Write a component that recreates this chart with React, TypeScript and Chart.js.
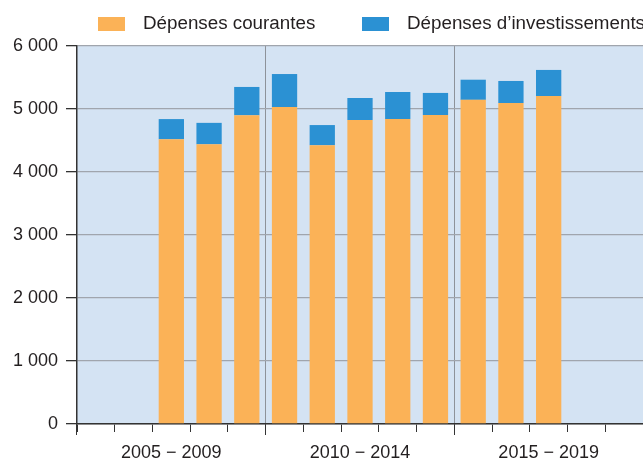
import React, { useEffect, useRef } from "react";
import { Chart, registerables } from "chart.js";

Chart.register(...registerables);

const years = ["2005","2006","2007","2008","2009","2010","2011","2012","2013","2014","2015","2016","2017","2018","2019"];
const groupLabels = ["2005 \u2212 2009", "2010 \u2212 2014", "2015 \u2212 2019"];
const courantes = [null, null, 4520, 4440, 4900, 5030, 4425, 4825, 4840, 4905, 5145, 5095, 5205, null, null];
const investissements = [null, null, 320, 340, 450, 525, 320, 350, 430, 350, 320, 350, 415, null, null];
const seriesLabels = ["Dépenses courantes", "Dépenses d\u2019investissements"];
const seriesColors = ["#fbb257", "#2b91d3"];

const FONT = "'Liberation Sans', Arial, sans-serif";
const TEXT = "#231f20";

const fmt = (v: number) => String(v).replace(/\B(?=(\d{3})+(?!\d))/g, " ");

const bgPlugin = {
  id: "plotBg",
  beforeDraw(chart: any) {
    const { ctx, chartArea } = chart;
    ctx.save();
    ctx.fillStyle = "#d4e3f3";
    ctx.fillRect(chartArea.left, chartArea.top, chartArea.right - chartArea.left, chartArea.bottom - chartArea.top);
    ctx.restore();
  },
};

const legendPlugin = {
  id: "customLegend",
  afterDraw(chart: any) {
    const { ctx } = chart;
    const items = chart.data.datasets;
    const starts = [98, 362];
    ctx.save();
    ctx.font = `18.8px ${FONT}`;
    ctx.textBaseline = "middle";
    items.forEach((ds: any, i: number) => {
      const x = starts[i];
      ctx.fillStyle = ds.backgroundColor;
      ctx.fillRect(x, 17, 27, 14);
      ctx.fillStyle = TEXT;
      ctx.fillText(ds.label, x + 45, 24);
    });
    ctx.restore();
  },
};

export default function App() {
  const ref = useRef<HTMLCanvasElement>(null);

  useEffect(() => {
    document.body.style.margin = "0";
    const canvas = ref.current!;
    const chart = new Chart(canvas, {
      type: "bar",
      data: {
        labels: years,
        datasets: [
          {
            label: seriesLabels[0],
            data: courantes as any,
            backgroundColor: seriesColors[0],
            categoryPercentage: 1,
            barPercentage: 0.67,
            xAxisID: "x",
          },
          {
            label: seriesLabels[1],
            data: investissements as any,
            backgroundColor: seriesColors[1],
            categoryPercentage: 1,
            barPercentage: 0.67,
            xAxisID: "x",
          },
        ],
      },
      options: {
        animation: false,
        responsive: false,
        devicePixelRatio: 1,
        layout: { padding: { top: 46, left: 0, right: 0, bottom: 0 } },
        plugins: { legend: { display: false }, tooltip: { enabled: false } },
        scales: {
          x: {
            type: "category",
            stacked: true,
            position: "bottom",
            offset: true,
            grid: {
              offset: true,
              drawOnChartArea: false,
              tickLength: 8,
              tickColor: "#333",
              color: "#333",
            },
            border: { display: true, color: "#333", width: 1.5 },
            ticks: { display: false },
            afterFit: (s: any) => {
              s.height = 0;
            },
          } as any,
          x2: {
            type: "category",
            labels: groupLabels,
            position: "bottom",
            offset: true,
            grid: {
              offset: true,
              drawOnChartArea: true,
              tickLength: 11,
              tickColor: "#333",
              color: (c: any) => (c.index === 0 ? "#333" : "#8d9299"),
              lineWidth: 1,
            },
            border: { display: false },
            ticks: {
              font: { family: FONT, size: 18 },
              color: TEXT,
              padding: 7,
              maxRotation: 0,
            },
            afterFit: (s: any) => {
              s.height = 37;
            },
          } as any,
          y: {
            stacked: true,
            min: 0,
            max: 6000,
            ticks: {
              stepSize: 1000,
              font: { family: FONT, size: 18 },
              color: TEXT,
              padding: 8,
              callback: (v: any) => fmt(Number(v)),
            },
            grid: {
              color: "#a0a5ad",
              lineWidth: 1.3,
              tickLength: 11,
              tickColor: "#333",
            },
            border: { display: true, color: "#333", width: 1.5 },
            afterFit: (s: any) => {
              s.width = 77;
            },
          } as any,
        },
      },
      plugins: [bgPlugin, legendPlugin],
    });
    return () => chart.destroy();
  }, []);

  return <canvas ref={ref} width={643} height={461} style={{ display: "block", width: 643, height: 461 }} />;
}
